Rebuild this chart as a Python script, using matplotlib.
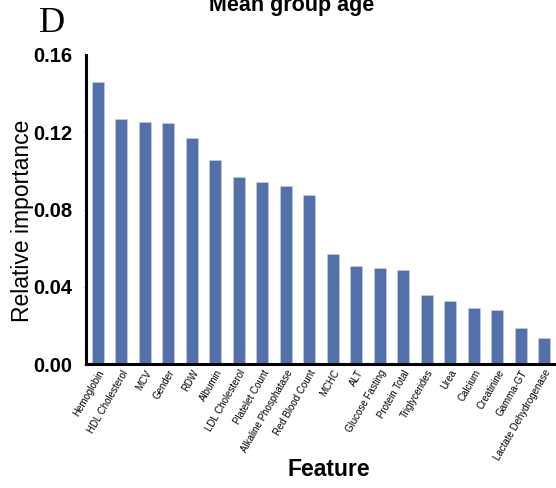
import matplotlib
matplotlib.use("Agg")
import matplotlib.pyplot as plt

features = ["Hemoglobin", "HDL Cholesterol", "MCV", "Gender", "RDW", "Albumin",
            "LDL Cholesterol", "Platelet Count", "Alkaline Phosphatase",
            "Red Blood Count", "MCHC", "ALT", "Glucose Fasting", "Protein Total",
            "Triglycerides", "Urea", "Calcium", "Creatinine", "Gamma-GT",
            "Lactate Dehydrogenase"]
importance = [0.146, 0.127, 0.1253, 0.1248, 0.117, 0.1056, 0.0968, 0.0943,
              0.0922, 0.0875, 0.057, 0.0508, 0.0497, 0.0487, 0.0357, 0.0326,
              0.029, 0.028, 0.0186, 0.0135]
yticks = [0.00, 0.04, 0.08, 0.12, 0.16]
ytick_labels = ["0.00", "0.04", "0.08", "0.12", "0.16"]

plt.rcParams['font.family'] = ['Liberation Sans', 'DejaVu Sans']

fig = plt.figure(figsize=(5.56, 4.88), dpi=100)
ax = fig.add_axes([86/556, 1-364/488, 1-86/556, (364-55)/488])

x = list(range(len(features)))
ax.bar(x, importance, width=0.5, color='#5271ab', edgecolor='#c8cfdd', linewidth=0.5)

ax.set_xlim(-0.5, len(features) - 0.5)
ax.set_ylim(0, 0.16)
ax.set_yticks(yticks)
ax.set_yticklabels(ytick_labels, fontsize=14.5, fontweight='bold')
ax.set_xticks(x)
ax.set_xticklabels(features, rotation=60, ha='right', rotation_mode='anchor', fontsize=7)
ax.tick_params(axis='y', length=2, color='#dddddd', pad=8)
ax.tick_params(axis='x', length=0, pad=3)

for s in ['top', 'right']:
    ax.spines[s].set_visible(False)
for s in ['left', 'bottom']:
    ax.spines[s].set_linewidth(2.2)
    ax.spines[s].set_color('black')

fig.text(23/556, 1-221/488, "Relative importance", rotation=90, fontsize=16.5,
         ha='center', va='center')
fig.text(329/556, 1-469/488, "Feature", fontsize=16.5, fontweight='bold',
         ha='center', va='center')
fig.text(292/556, 1-6/488, "Mean group age", fontsize=15.5, fontweight='bold',
         ha='center', va='center')
fig.text(52/556, 1-24/488, "D", fontsize=26, family='Liberation Serif',
         ha='center', va='center')

fig.savefig("out.png", dpi=100)
